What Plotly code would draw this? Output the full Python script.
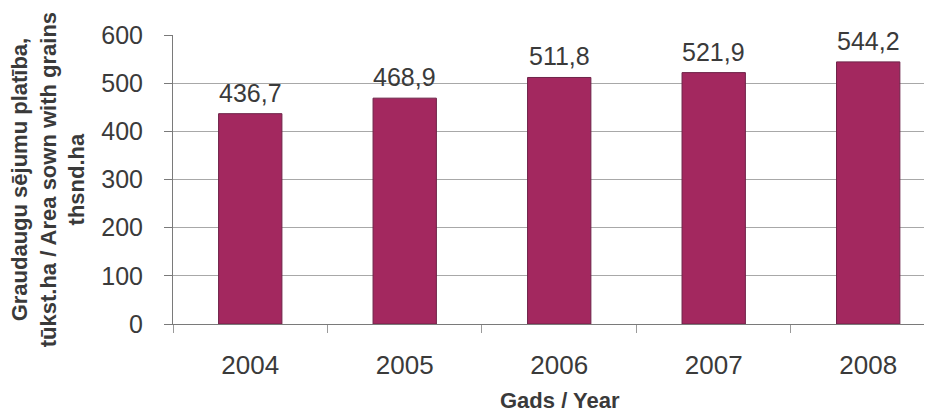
import plotly.graph_objects as go

years = ["2004", "2005", "2006", "2007", "2008"]
values = [436.7, 468.9, 511.8, 521.9, 544.2]
labels = ["436,7", "468,9", "511,8", "521,9", "544,2"]
y_ticks = [0, 100, 200, 300, 400, 500, 600]

FONT = "Liberation Sans, Arial, sans-serif"
TXT = "#3a3a3a"

fig = go.Figure()
fig.add_trace(go.Bar(
    x=years, y=values,
    marker=dict(color="#a3285f", line=dict(color="#6e2348", width=1)),
    width=0.41,
))

annotations = []
for i, (v, lab) in enumerate(zip(values, labels)):
    annotations.append(dict(
        x=i, y=v, xref="x", yref="y", text=lab, showarrow=False,
        xanchor="center", yanchor="bottom", yshift=5,
        font=dict(family=FONT, size=25, color=TXT),
    ))

annotations.append(dict(
    text="<b>Graudaugu sējumu platība,<br>tūkst.ha / Area sown with grains<br>thsnd.ha</b>",
    xref="paper", yref="paper", x=-0.165, y=0.5,
    xanchor="center", yanchor="middle", textangle=-90,
    showarrow=False, font=dict(family=FONT, size=22, color=TXT),
))
annotations.append(dict(
    text="<b>Gads / Year</b>",
    xref="paper", yref="paper", x=0.51, y=-0.266,
    xanchor="center", yanchor="middle",
    showarrow=False, font=dict(family=FONT, size=22, color=TXT),
))

fig.update_layout(
    width=924, height=404,
    margin=dict(l=165, r=0, t=27, b=88, autoexpand=False),
    paper_bgcolor="white", plot_bgcolor="white",
    showlegend=False,
    font=dict(family=FONT, color=TXT),
    xaxis=dict(
        type="category", range=[-0.5, 4.413],
        showline=True, linecolor="#7a7a7a", linewidth=1,
        ticks="outside", ticklen=8, tickcolor="#9a9a9a",
        tickson="boundaries", ticklabelstandoff=18,
        tickfont=dict(size=26, color=TXT),
        showgrid=False,
    ),
    yaxis=dict(
        range=[0, 600], tickvals=y_ticks,
        showline=True, linecolor="#7a7a7a", linewidth=1,
        ticks="outside", ticklen=8, tickcolor="#7a7a7a",
        ticklabelstandoff=16,
        tickfont=dict(size=25, color=TXT),
        showgrid=True, gridcolor="#a8a8a8", gridwidth=1,
        zeroline=False,
    ),
    annotations=annotations,
)

fig.write_html("out.html")
